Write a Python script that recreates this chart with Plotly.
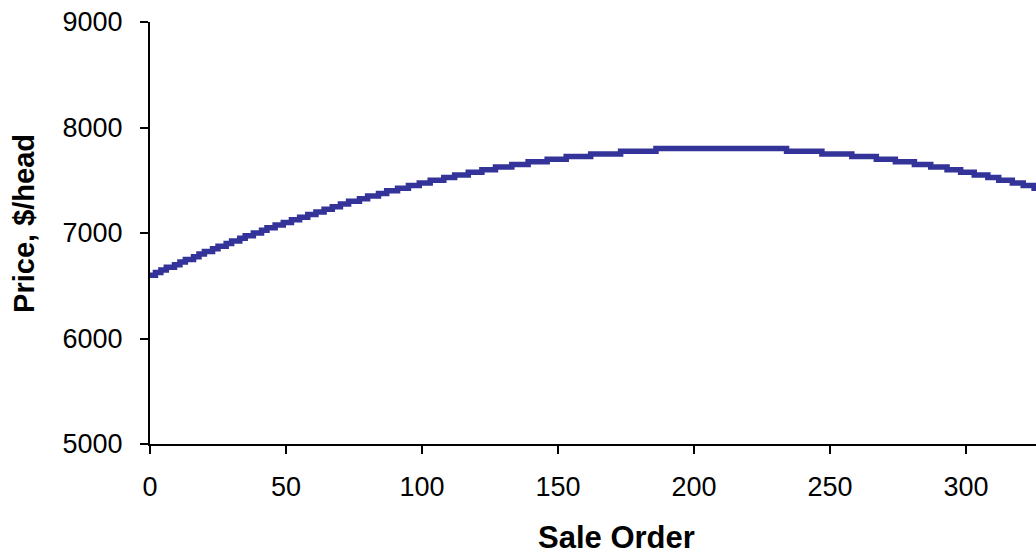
import plotly.graph_objects as go

# Sale order at which each price level begins (step chart)
sale_order = [0, 2, 4, 6, 9, 11, 13, 16, 18, 20, 23, 25, 28, 30, 33, 35, 38, 41, 43,
              46, 49, 52, 55, 58, 61, 64, 67, 70, 73, 77, 80, 84, 87, 91, 95, 99,
              103, 108, 112, 117, 122, 127, 133, 139, 146, 153, 162, 173, 186,
              234, 247, 258, 267, 274, 281, 287, 293, 298, 303, 308, 312, 317, 321, 325, 326]
price = [6600, 6625, 6650, 6675, 6700, 6725, 6750, 6775, 6800, 6825, 6850, 6875, 6900,
         6925, 6950, 6975, 7000, 7025, 7050, 7075, 7100, 7125, 7150, 7175, 7200, 7225,
         7250, 7275, 7300, 7325, 7350, 7375, 7400, 7425, 7450, 7475, 7500, 7525, 7550,
         7575, 7600, 7625, 7650, 7675, 7700, 7725, 7750, 7775, 7800,
         7775, 7750, 7725, 7700, 7675, 7650, 7625, 7600, 7575, 7550, 7525, 7500, 7475,
         7450, 7425, 7425]

x_ticks = [0, 50, 100, 150, 200, 250, 300]
y_ticks = [5000, 6000, 7000, 8000, 9000]

FONT = "Liberation Sans, Arial, sans-serif"

fig = go.Figure()
fig.add_trace(go.Scatter(
    x=sale_order, y=price, mode="lines",
    line=dict(color="#333399", width=5.5, shape="hv"),
    showlegend=False, hoverinfo="skip",
))

fig.update_layout(
    width=1036, height=559,
    margin=dict(l=150, r=0, t=22, b=115),
    paper_bgcolor="white", plot_bgcolor="white",
    font=dict(family=FONT, size=27, color="black"),
    xaxis=dict(
        range=[0, 325.7], tickvals=x_ticks, ticktext=[str(v) for v in x_ticks],
        showgrid=False, zeroline=False,
        showline=True, linecolor="black", linewidth=2,
        ticks="outside", ticklen=8, tickwidth=1.5, tickcolor="black",
        tickfont=dict(family=FONT, size=27, color="black"),
        ticklabelstandoff=10,
    ),
    yaxis=dict(
        range=[5000, 9000], tickvals=y_ticks, ticktext=[str(v) for v in y_ticks],
        showgrid=False, zeroline=False,
        showline=True, linecolor="black", linewidth=2,
        ticks="outside", ticklen=8, tickwidth=1.5, tickcolor="black",
        tickfont=dict(family=FONT, size=27, color="black"),
        ticklabelstandoff=12,
    ),
    annotations=[
        dict(text="<b>Sale Order</b>", xref="paper", yref="paper",
             x=0.526, y=-0.222, xanchor="center", yanchor="middle",
             showarrow=False, font=dict(family=FONT, size=31, color="black")),
        dict(text="<b>Price, $/head</b>", xref="paper", yref="paper",
             x=-0.1415, y=0.523, xanchor="center", yanchor="middle", textangle=-90,
             showarrow=False, font=dict(family=FONT, size=29, color="black")),
    ],
)

fig.write_html("out.html", config={"displayModeBar": False},
               post_script="document.body.style.margin='0';document.body.style.overflow='hidden';")
